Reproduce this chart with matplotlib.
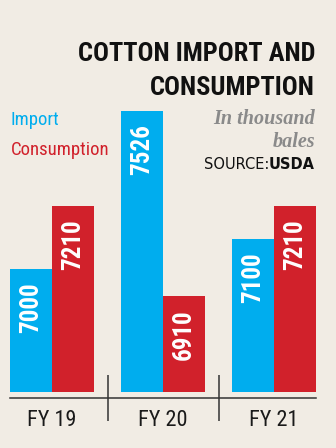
import matplotlib
matplotlib.use("Agg")
import matplotlib.pyplot as plt
from matplotlib import font_manager as fm

# Data
years = ["FY 19", "FY 20", "FY 21"]
imports = [7000, 7526, 7100]
consumption = [7210, 6910, 7210]
series_names = ["Import", "Consumption"]

BG = "#f1ece4"
CYAN = "#00adee"
RED = "#d1212b"


def pick_narrow():
    names = {f.name for f in fm.fontManager.ttflist}
    for cand in ("Roboto Condensed", "Liberation Sans Narrow", "DejaVu Sans Condensed",
                 "Open Sans Condensed"):
        if cand in names:
            return [cand, "DejaVu Sans"]
    return ["DejaVu Sans"]


NARROW = pick_narrow()
STRETCH = "condensed"

W, H = 336, 448
fig = plt.figure(figsize=(W / 100, H / 100), dpi=100, facecolor=BG)


def fx(px):
    return px / W


def fy(py):
    return 1 - py / H


# axes: x from 10px to 316px, bottom spine at 398px, top at 40px
ax = fig.add_axes([fx(10), fy(398), fx(306), (398 - 40) / H])
ax.set_facecolor("none")

base = 6590           # value at the bar foot
px_per_unit = 0.3
ymin = base - 6 / px_per_unit
ymax = base + (398 - 6 - 40) / px_per_unit
ax.set_ylim(ymin, ymax)

bw = 42 / 111
ax.set_xlim(-bw, 2 + bw)

x = range(len(years))
xi = [i - bw / 2 for i in x]
xc = [i + bw / 2 for i in x]
ax.bar(xi, [v - base for v in imports], bottom=base, width=bw, color=CYAN, linewidth=0)
ax.bar(xc, [v - base for v in consumption], bottom=base, width=bw, color=RED, linewidth=0)

for xs, vals in ((xi, imports), (xc, consumption)):
    for xp, v in zip(xs, vals):
        ax.annotate(f"{v}", xy=(xp, v), xytext=(0, -9.5), textcoords="offset points",
                    rotation=90, ha="center", va="top", color="white",
                    fontsize=18, fontweight="bold", family=NARROW, fontstretch=STRETCH)

for s in ("top", "right", "left"):
    ax.spines[s].set_visible(False)
ax.spines["bottom"].set_color("#333333")
ax.spines["bottom"].set_linewidth(1.1)
ax.set_yticks([])

ax.set_xticks(list(x))
ax.set_xticklabels(years, family=NARROW, fontsize=16, color="#1a1a1a", fontstretch=STRETCH)
ax.tick_params(axis="x", which="major", length=0, pad=9)
ax.set_xticks([0.5, 1.5], minor=True)
ax.tick_params(axis="x", which="minor", direction="inout", length=33, width=1.1, color="#333333")

# Title block
for line, yb in (("COTTON IMPORT AND", 61), ("CONSUMPTION", 95)):
    fig.text(fx(315), fy(yb), line, ha="right", va="baseline",
             fontsize=19, fontweight="bold", family=NARROW, fontstretch=STRETCH,
             color="#111111")

# Legend
fig.text(fx(11), fy(125), series_names[0], ha="left", va="baseline",
         fontsize=13.5, family=NARROW, fontstretch=STRETCH, color=CYAN)
fig.text(fx(11), fy(155), series_names[1], ha="left", va="baseline",
         fontsize=13.5, family=NARROW, fontstretch=STRETCH, color=RED)

# Unit note
for line, yb in (("In thousand", 124), ("bales", 147)):
    fig.text(fx(315), fy(yb), line, ha="right", va="baseline",
             fontsize=14.5, family="Liberation Serif", style="italic", fontweight="bold",
             color="#8a8a8a")

# Source
usda = fig.text(fx(315), fy(169), "USDA", ha="right", va="baseline",
                fontsize=10.5, fontweight="bold", family="DejaVu Sans", color="#111111")
fig.canvas.draw()
bb = usda.get_window_extent()
fig.text(bb.x0 / (fig.dpi * fig.get_figwidth()), fy(169), "SOURCE:", ha="right",
         va="baseline", fontsize=10.5, family="DejaVu Sans", color="#111111")

fig.savefig("out.png", dpi=100, facecolor=BG)
